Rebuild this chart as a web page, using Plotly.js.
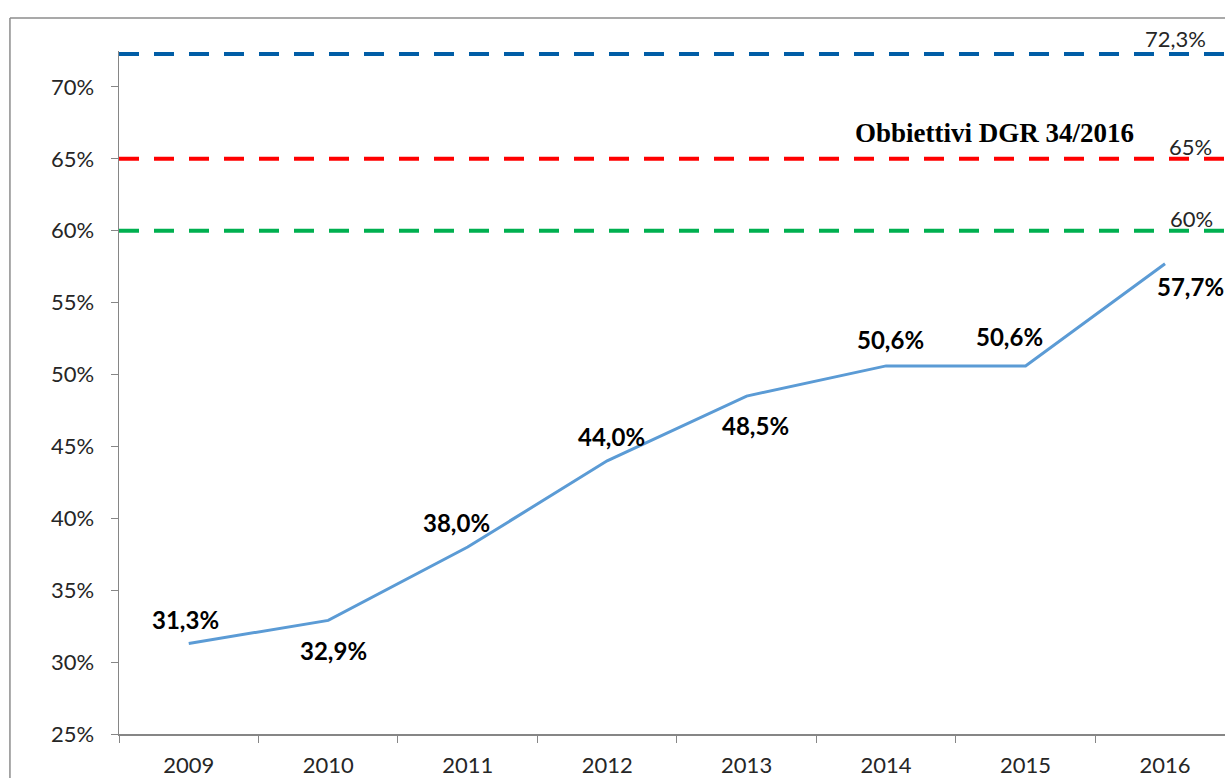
<!DOCTYPE html>
<html><head><meta charset="utf-8">
<script src="https://cdn.plot.ly/plotly-3.0.1.min.js"></script>
<style>html,body{margin:0;padding:0;background:#fff}#chart{width:1225px;height:778px}</style>
</head><body><div id="chart"></div>
<script>
const years = ['2009','2010','2011','2012','2013','2014','2015','2016'];
const values = [31.3, 32.9, 38.0, 44.0, 48.5, 50.6, 50.6, 57.7];
const valueLabels = ['31,3%','32,9%','38,0%','44,0%','48,5%','50,6%','50,6%','57,7%'];
const yTickVals = [25,30,35,40,45,50,55,60,65,70];
const yTickText = ['25%','30%','35%','40%','45%','50%','55%','60%','65%','70%'];
const targetValues = [72.3, 65, 60];
const targetLabels = ['72,3%','65%','60%'];
const targetColors = ['#005DA6','#FF0000','#00B050'];
const targetTitle = 'Obbiettivi DGR 34/2016';

const labelShift = [[-3,24],[5,-30],[-11,25],[4,24],[9,-29],[4,26],[-16,29],[25,-23]];
const targetLabelX = [0.9548, 0.9684, 0.970];
const targetLabelShift = [15, 12, 12];

const font = 'Lato, "Open Sans", sans-serif';

const shapes = targetValues.map((v,i)=>({
  type:'line', xref:'paper', x0:0, x1:1, yref:'y', y0:v, y1:v,
  line:{color:targetColors[i], width:4, dash:'20px,15px'}
}));
// outer frame
shapes.push({type:'line', xref:'paper', yref:'paper', x0:-0.0986, x1:1.02, y0:1.0483, y1:1.0483, line:{color:'#8c8c8c', width:1.5}});
shapes.push({type:'line', xref:'paper', yref:'paper', x0:-0.0986, x1:-0.0986, y0:1.0483, y1:-0.2, line:{color:'#8c8c8c', width:1.5}});

const annotations = values.map((v,i)=>({
  xref:'x', yref:'y', x: i, y: v, text: '<b>'+valueLabels[i]+'</b>', showarrow:false,
  xanchor:'center', yanchor:'middle',
  xshift: labelShift[i][0], yshift: labelShift[i][1],
  font:{family:font, size:24, color:'#000'}
}));
targetValues.forEach((v,i)=>annotations.push({
  xref:'paper', yref:'y', x: targetLabelX[i], y: v, text: targetLabels[i], showarrow:false,
  xanchor:'center', yanchor:'middle',
  yshift: targetLabelShift[i], font:{family:font, size:22, color:'#262626'}
}));
annotations.push({xref:'paper', yref:'y', x:0.792, y:targetValues[1], yshift:26, showarrow:false,
  xanchor:'center', yanchor:'middle',
  text:'<b>'+targetTitle+'</b>', font:{family:'"Liberation Serif", "DejaVu Serif", serif', size:27, color:'#000'}});

Plotly.newPlot('chart', [{
  x: years, y: values, type:'scatter', mode:'lines',
  line:{color:'#5B9BD5', width:3}, hoverinfo:'skip'
}], {
  width:1225, height:778,
  margin:{l:119, r:0, t:51, b:44},
  paper_bgcolor:'#fff', plot_bgcolor:'#fff',
  showlegend:false,
  xaxis:{type:'category', range:[-0.5, 7.43], showgrid:false, zeroline:false,
    showline:true, linecolor:'#868686', linewidth:1.5, ticks:'outside', tickson:'boundaries',
    ticklen:7, tickcolor:'#868686', ticklabelstandoff:11,
    tickfont:{family:font, size:22, color:'#262626'}},
  yaxis:{range:[25, 72.5], tickmode:'array', tickvals:yTickVals, ticktext:yTickText,
    showgrid:false, zeroline:false, showline:true, linecolor:'#868686', linewidth:1.5,
    ticks:'outside', ticklen:7, tickcolor:'#868686', ticklabelstandoff:12,
    tickfont:{family:font, size:22, color:'#262626'}},
  shapes: shapes, annotations: annotations
}, {displayModeBar:false, staticPlot:true});
</script></body></html>
